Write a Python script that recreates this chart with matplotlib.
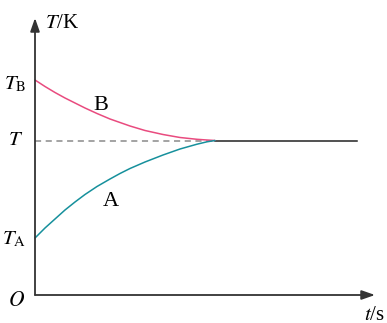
import matplotlib
matplotlib.use("Agg")
import matplotlib.pyplot as plt

# Data (schematic units: t to the right, T upward; origin O at (0, 0))
t_curve = [0, 10, 20, 30, 40, 50, 62, 75, 85, 95, 110, 128, 145, 162, 172, 180]
T_B_curve = [215, 208.5, 202.5, 197, 192, 187, 181.5, 176, 172.5, 169, 164.5, 160.5, 157.5, 155.7, 155, 154.5]
T_A_curve = [57, 67, 76, 85, 93, 100.5, 108.5, 116, 121.5, 126.5, 133, 140, 146, 150.8, 153.2, 154.5]
T_eq = 154.5
t_end = 322
t_axis_max = 340
T_axis_max = 277

fig = plt.figure(figsize=(3.87, 3.23), dpi=100)
ax = fig.add_axes([0, 0, 1, 1])
ax.set_xlim(-35, 352)
ax.set_ylim(-28, 295)
ax.axis("off")

serif = ["Liberation Serif", "DejaVu Serif"]
axc = "#333333"

# axes with arrows
ax.annotate("", xy=(t_axis_max, 0), xytext=(0, 0),
            arrowprops=dict(arrowstyle="-|>,head_length=0.8,head_width=0.28",
                            color=axc, lw=1.3, shrinkA=0, shrinkB=0))
ax.annotate("", xy=(0, T_axis_max), xytext=(0, 0),
            arrowprops=dict(arrowstyle="-|>,head_length=0.8,head_width=0.28",
                            color=axc, lw=1.3, shrinkA=0, shrinkB=0))

# curves
ax.plot([0, t_curve[-1]], [T_eq, T_eq], ls=(0, (4, 3)), color="#8a8a8a", lw=1.1)
ax.plot([t_curve[-1], t_end], [T_eq, T_eq], color="#222222", lw=1.1)
ax.plot(t_curve, T_B_curve, color="#e94b7f", lw=1.1, solid_capstyle="round")
ax.plot(t_curve, T_A_curve, color="#16909c", lw=1.1, solid_capstyle="round")

fs = 15
kw = dict(family=serif, math_fontfamily="stix")
# axis labels
ax.text(10, 271, "$\\mathit{T}$/K", fontsize=fs, va="center", ha="left", **kw)
ax.text(350, -20, "$\\mathit{t}$/s", fontsize=fs, va="center", ha="right", **kw)
ax.text(-18, -7, "$\\mathit{O}$", fontsize=15.5, va="center", ha="center", **kw)
ax.text(-9, 211, "$\\mathit{T}_{\\mathrm{B}}$", fontsize=fs, va="center", ha="right", **kw)
ax.text(-12, T_eq, "$\\mathit{T}$", fontsize=fs, va="center", ha="right", **kw)
ax.text(-9, 56, "$\\mathit{T}_{\\mathrm{A}}$", fontsize=fs, va="center", ha="right", **kw)
ax.text(66, 189, "B", fontsize=16, va="center", ha="center", family=serif)
ax.text(76, 94, "A", fontsize=16, va="center", ha="center", family=serif)

fig.savefig("out.png", dpi=100)
